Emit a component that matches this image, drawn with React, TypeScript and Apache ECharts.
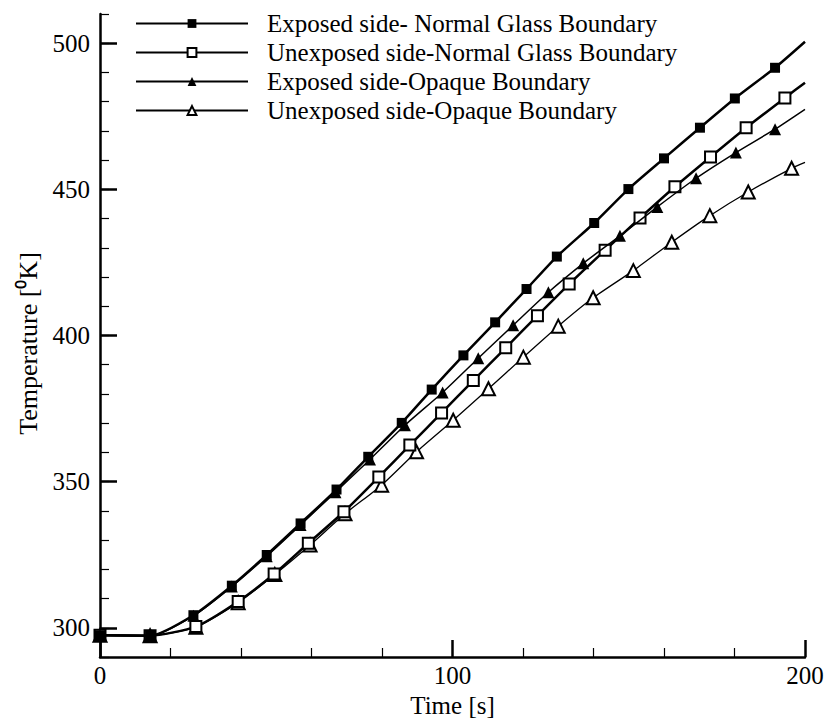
import React, { useEffect, useRef } from "react";
import * as echarts from "echarts";

const seriesNames = [
  "Exposed side- Normal Glass Boundary",
  "Unexposed side-Normal Glass Boundary",
  "Exposed side-Opaque Boundary",
  "Unexposed side-Opaque Boundary",
];

const t1 = [0, 14.2, 26.5, 37.4, 47.3, 56.9, 67.1, 76.1, 85.6, 94.1, 103.1, 112.1, 121.0, 129.6, 140.2, 149.9, 160.0, 170.2, 180.1, 191.5];
const v1 = [297.4, 297.3, 304.3, 314.4, 324.9, 335.7, 347.3, 358.5, 370.1, 381.5, 393.2, 404.5, 415.9, 427.0, 438.5, 450.1, 460.6, 471.1, 481.1, 491.6];
const t2 = [0, 14.2, 27.2, 39.2, 49.4, 59.1, 69.2, 79.1, 87.9, 96.9, 105.9, 115.1, 124.1, 133.1, 143.3, 153.2, 163.1, 173.2, 183.3, 194.3];
const v2 = [297.4, 297.3, 300.4, 309.0, 318.4, 328.9, 339.7, 351.6, 362.5, 373.5, 384.6, 395.8, 406.8, 417.6, 429.2, 440.2, 450.9, 461.1, 471.1, 481.3];
const t3 = [0, 14.2, 26.5, 37.4, 47.3, 56.9, 66.8, 76.6, 86.5, 97.2, 107.3, 117.2, 127.2, 137.1, 147.5, 158.1, 169.1, 180.4, 191.5];
const v3 = [297.4, 297.3, 304.1, 314.1, 324.5, 335.2, 346.4, 357.6, 369.3, 380.5, 392.2, 403.5, 414.8, 424.7, 434.1, 444.0, 453.8, 462.6, 470.6];
const t4 = [0, 14.2, 27.2, 39.2, 49.6, 59.6, 69.5, 79.9, 89.8, 100.2, 110.2, 120.1, 130.0, 139.9, 151.3, 162.2, 173.0, 183.9, 196.2];
const v4 = [297.4, 297.3, 300.2, 308.6, 318.2, 328.3, 339.0, 348.8, 360.2, 371.0, 381.8, 392.6, 403.2, 412.9, 422.2, 431.9, 441.0, 449.1, 457.2];
// values where each line ends at t = 200 (no symbol there)
const endTimes = [200, 200, 200, 200];
const endValues = [500.5, 486.5, 477.4, 459.2];

const yLabelValues = [300, 350, 400, 450, 500];

const FONT = "Liberation Serif, serif";

function build(t: number[], v: number[], k: number) {
  const d: any[] = t.map((x, i) => [x, v[i]]);
  d.push({ value: [endTimes[k], endValues[k]], symbol: "none" });
  return d;
}

export default function App() {
  const ref = useRef<HTMLDivElement>(null);
  useEffect(() => {
    if (!ref.current) return;
    const chart = echarts.init(ref.current, null, { renderer: "svg" });
    const styles = [
      { symbol: "rect", size: 10, width: 2.5, z: 6, bw: 0 },
      { symbol: "emptyRect", size: 11, width: 2.5, z: 4, bw: 1.3 },
      { symbol: "triangle", size: 12, width: 1.5, z: 5, bw: 0 },
      { symbol: "emptyTriangle", size: 13, width: 1.3, z: 3, bw: 1.1 },
    ];
    const datas = [build(t1, v1, 0), build(t2, v2, 1), build(t3, v3, 2), build(t4, v4, 3)];
    const txt = { color: "#000", fontSize: 25, fontFamily: FONT };
    chart.setOption({
      animation: false,
      backgroundColor: "#fff",
      textStyle: { fontFamily: FONT },
      grid: { left: 100, right: 19, top: 14, bottom: 61, containLabel: false, outerBoundsMode: "none" },
      legend: {
        orient: "vertical",
        left: 130,
        top: 6,
        itemWidth: 112,
        itemHeight: 11,
        itemGap: 4,
        data: seriesNames,
        textStyle: { ...txt, padding: [0, 0, 0, 14] },
      },
      xAxis: {
        type: "value",
        min: 0,
        max: 200,
        interval: 100,
        axisLine: { show: true, onZero: false, lineStyle: { color: "#000", width: 2.5 } },
        axisTick: { show: true, inside: true, length: 17, lineStyle: { color: "#000", width: 2.5 } },
        minorTick: { show: true, splitNumber: 5, length: 9, lineStyle: { color: "#000", width: 1.2 } },
        splitLine: { show: false },
        minorSplitLine: { show: false },
        axisLabel: { ...txt, margin: 6 },
        name: "Time [s]",
        nameLocation: "middle",
        nameGap: 21,
        nameTextStyle: { ...txt, fontSize: 25 },
      },
      yAxis: [
        {
          type: "value",
          min: 290,
          max: 510,
          axisLine: { show: true, onZero: false, lineStyle: { color: "#000", width: 2.5 } },
          axisTick: { show: true, inside: true, length: 17, customValues: yLabelValues, lineStyle: { color: "#000", width: 2.5 } },
          splitLine: { show: false },
          axisLabel: { ...txt, margin: 10, customValues: yLabelValues },
          name: "Temperature [⁰K]",
          nameLocation: "middle",
          nameRotate: 90,
          nameGap: 56,
          nameTextStyle: { ...txt, fontSize: 26, padding: [0, 16, 0, 0] },
        },
        {
          type: "value",
          min: 290,
          max: 510,
          interval: 10,
          position: "left",
          axisLine: { show: false },
          axisTick: { show: true, inside: true, length: 9, lineStyle: { color: "#000", width: 1.2 } },
          axisLabel: { show: false },
          splitLine: { show: false },
        },
      ],
      series: seriesNames.map((name, k) => ({
        name,
        type: "line",
        yAxisIndex: 0,
        data: datas[k],
        smooth: 0.2,
        symbol: styles[k].symbol,
        symbolSize: styles[k].size,
        showAllSymbol: true,
        z: styles[k].z,
        lineStyle: { color: "#000", width: styles[k].width },
        itemStyle: { color: "#000", borderColor: "#222", borderWidth: styles[k].bw },
        emphasis: { disabled: true },
      })),
    });
    return () => chart.dispose();
  }, []);
  return <div ref={ref} style={{ position: "fixed", left: 0, top: 0, width: 824, height: 718 }} />;
}
